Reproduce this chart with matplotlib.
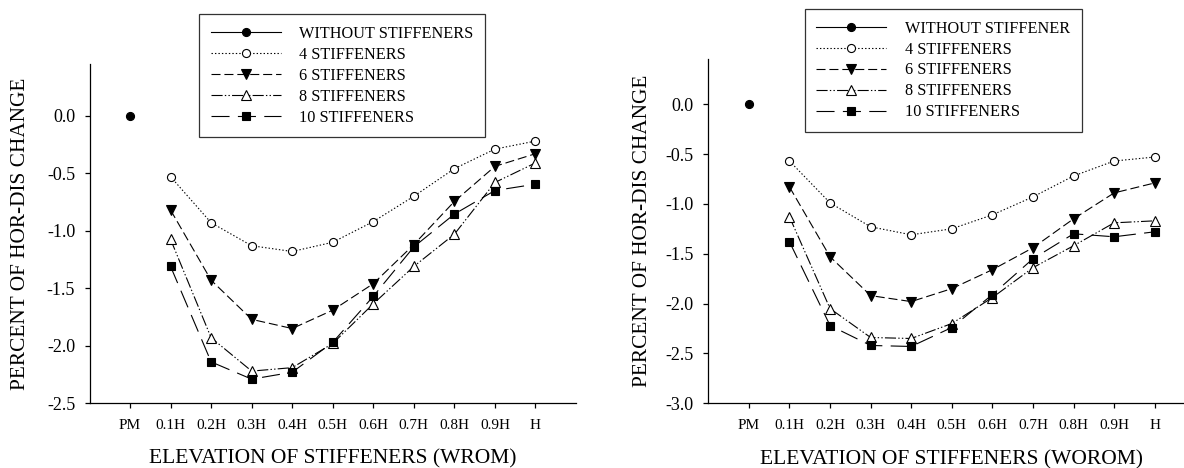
import matplotlib
matplotlib.use("Agg")
import matplotlib.pyplot as plt
from matplotlib.ticker import FormatStrFormatter, FixedLocator

plt.rcParams['font.family'] = ['Liberation Serif', 'DejaVu Serif']
plt.rcParams['lines.scale_dashes'] = False

categories = ['PM', '0.1H', '0.2H', '0.3H', '0.4H', '0.5H', '0.6H', '0.7H', '0.8H', '0.9H', 'H']

# Left chart (WROM)
wrom_without = [0.0]
wrom_4 = [-0.53, -0.93, -1.13, -1.18, -1.10, -0.92, -0.70, -0.46, -0.29, -0.22]
wrom_6 = [-0.82, -1.43, -1.77, -1.85, -1.69, -1.46, -1.12, -0.745, -0.44, -0.33]
wrom_8 = [-1.075, -1.93, -2.22, -2.19, -1.98, -1.635, -1.31, -1.03, -0.58, -0.41]
wrom_10 = [-1.31, -2.14, -2.29, -2.23, -1.97, -1.57, -1.14, -0.855, -0.65, -0.595]

# Right chart (WOROM)
worom_without = [0.0]
worom_4 = [-0.57, -0.99, -1.23, -1.31, -1.25, -1.11, -0.93, -0.72, -0.57, -0.53]
worom_6 = [-0.83, -1.53, -1.92, -1.98, -1.85, -1.66, -1.44, -1.15, -0.89, -0.79]
worom_8 = [-1.13, -2.05, -2.34, -2.35, -2.20, -1.94, -1.64, -1.42, -1.19, -1.17]
worom_10 = [-1.38, -2.22, -2.42, -2.43, -2.24, -1.91, -1.55, -1.30, -1.33, -1.28]

labels_left = ['WITHOUT STIFFENERS', '4 STIFFENERS', '6 STIFFENERS', '8 STIFFENERS', '10 STIFFENERS']
labels_right = ['WITHOUT STIFFENER', '4 STIFFENERS', '6 STIFFENERS', '8 STIFFENERS', '10 STIFFENERS']

W, H = 1184, 468
fig = plt.figure(figsize=(W / 100, H / 100), dpi=100)

def px_axes(x0, x1, ytop, ybot):
    return [x0 / W, 1 - ybot / H, (x1 - x0) / W, (ybot - ytop) / H]

styles = [
    dict(ls='-', marker='o', mfc='black', ms=5.8),
    dict(ls=(0, (1, 1.5)), marker='o', mfc='white', ms=5.8),
    dict(ls=(0, (6.5, 2.8)), marker='v', mfc='black', ms=6.8),
    dict(ls=(0, (8, 1.6, 1, 1.6, 1, 1.6)), marker='^', mfc='white', ms=6.8),
    dict(ls=(0, (13, 6)), marker='s', mfc='black', ms=6.2),
]

def draw(ax, series, labels, ylo, ticks, xlabel, ylabel_x, leg_xy):
    xs_series = list(range(1, len(categories)))
    handles = []
    for i, (vals, lab) in enumerate(zip(series, labels)):
        st = styles[i]
        xs = [0] if i == 0 else xs_series
        h, = ax.plot(xs, vals, color='black', lw=0.8, ls=st['ls'], marker=st['marker'],
                     mfc=st['mfc'], mec='black', mew=0.8, ms=st['ms'], label=lab, clip_on=False)
        handles.append(h)
    ax.set_xlim(-1, 11)
    ax.set_ylim(ylo, 0.45)
    ax.set_xticks(range(len(categories)))
    ax.set_xticklabels(categories)
    ax.yaxis.set_major_locator(FixedLocator(ticks))
    ax.yaxis.set_major_formatter(FormatStrFormatter('%.1f'))
    for s in ['top', 'right']:
        ax.spines[s].set_visible(False)
    for s in ['left', 'bottom']:
        ax.spines[s].set_linewidth(0.9)
    ax.tick_params(axis='x', direction='out', length=3.8, width=0.9, pad=7.5, labelsize=11)
    ax.tick_params(axis='y', direction='out', length=3.8, width=0.9, pad=6.5, labelsize=13)
    ax.set_xlabel(xlabel, fontsize=15.5)
    ax.xaxis.set_label_coords(0.5, -0.135)
    ax.set_ylabel('PERCENT OF HOR-DIS CHANGE', fontsize=15.3)
    ax.yaxis.set_label_coords(ylabel_x, 0.5)
    leg = fig.legend(handles=handles, loc='upper left',
                     bbox_to_anchor=(leg_xy[0] / W, 1 - leg_xy[1] / H),
                     bbox_transform=fig.transFigure, fontsize=11.7, frameon=True,
                     fancybox=False, edgecolor='black', handlelength=4.3,
                     handletextpad=1.15, labelspacing=0.3, borderpad=0.72,
                     borderaxespad=0, numpoints=1)
    leg.get_frame().set_linewidth(0.9)

ax1 = fig.add_axes(px_axes(89.5, 576, 64, 403.3))
draw(ax1, [wrom_without, wrom_4, wrom_6, wrom_8, wrom_10], labels_left, -2.5,
     [-2.5, -2.0, -1.5, -1.0, -0.5, 0.0],
     'ELEVATION OF STIFFENERS (WROM)', -0.122, (199, 14.3))

ax2 = fig.add_axes(px_axes(708.3, 1195.3, 59.3, 403.3))
draw(ax2, [worom_without, worom_4, worom_6, worom_8, worom_10], labels_right, -3.0,
     [-3.0, -2.5, -2.0, -1.5, -1.0, -0.5, 0.0],
     'ELEVATION OF STIFFENERS (WOROM)', -0.115, (804.6, 9))

fig.savefig('out.png', dpi=100)
